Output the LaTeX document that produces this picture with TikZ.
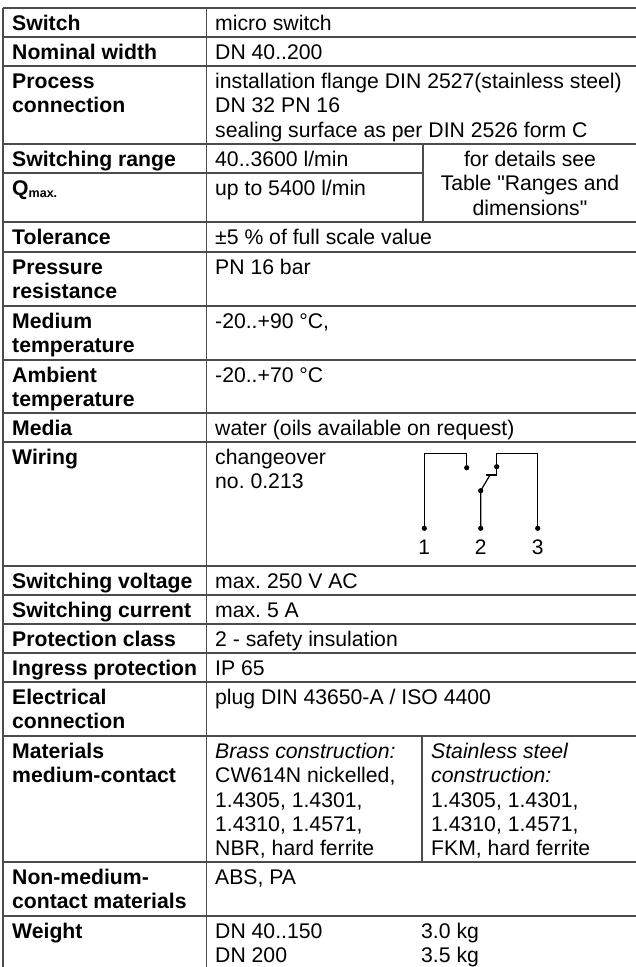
\documentclass[tikz,border=0pt]{standalone}
\usepackage{fontspec}
\setmainfont[Ligatures=TeXOff]{Liberation Sans}
\frenchspacing
\newcommand\cellfont{\fontsize{21.2}{24.4}\selectfont\frenchspacing}
\newcommand\fstrut{\rule{0pt}{17pt}}
\tikzset{
  gridline/.style={draw=black!70, line width=1.15pt},
  lab/.style={anchor=north west, inner sep=0pt, align=left, font=\cellfont\bfseries},
  val/.style={anchor=north west, inner sep=0pt, align=left, font=\cellfont},
  cen/.style={anchor=north, inner sep=0pt, align=center, font=\cellfont},
  wire/.style={line width=1.2pt, draw=black},
  dot/.style={circle, fill=black, inner sep=0pt, minimum size=5.2pt},
  term/.style={font=\fontsize{21}{21}\selectfont, anchor=base, inner sep=0pt}
}
\begin{document}
\begin{tikzpicture}[x=1pt,y=-1pt]
\useasboundingbox (0,0) rectangle (635,967);
\fill[white] (0,0) rectangle (635,967);
% grid
\foreach \yy in {8,37,66,144,222,252,306,360,413,442,566,595,624,653,682,736,862,916}
  \draw[gridline] (3,\yy) -- (640,\yy);
\draw[gridline] (3,173) -- (423,173);
\draw[gridline] (3,8) -- (3,975);
\draw[gridline] (206.5,8) -- (206.5,975);
\draw[gridline] (423,144) -- (423,222);
\draw[gridline] (422,736) -- (422,862);
% labels
\node[lab] (l1) at (12,13) {\fstrut Switch};
\node[lab] (l2) at (12,42) {\fstrut Nominal width};
\node[lab] (l3) at (12,71) {\fstrut Process\\connection};
\node[lab] (l4) at (12,149) {\fstrut Switching range};
\node[lab] (l5) at (12,178) {\fstrut Q\raisebox{-2.5pt}{\fontsize{12.5}{12.5}\selectfont\bfseries max.}};
\node[lab] (l6) at (12,227) {\fstrut Tolerance};
\node[lab] (l7) at (12,257) {\fstrut Pressure\\resistance};
\node[lab] (l8) at (12,311) {\fstrut Medium\\temperature};
\node[lab] (l9) at (12,365) {\fstrut Ambient\\temperature};
\node[lab] (l10) at (12,418) {\fstrut Media};
\node[lab] (l11) at (12,447) {\fstrut Wiring};
\node[lab] (l12) at (12,571) {\fstrut Switching voltage};
\node[lab] (l13) at (12,600) {\fstrut Switching current};
\node[lab] (l14) at (12,629) {\fstrut Protection class};
\node[lab] (l15) at (12,658) {\fstrut Ingress protection};
\node[lab] (l16) at (12,687) {\fstrut Electrical\\connection};
\node[lab] (l17) at (12,741) {\fstrut Materials\\medium-contact};
\node[lab] (l18) at (12,867) {\fstrut Non-medium-\\contact materials};
\node[lab] (l19) at (12,921) {\fstrut Weight};
% values
\node[val] (v1) at (215,13) {\fstrut micro switch};
\node[val] (v2) at (215,42) {\fstrut DN 40..200};
\node[val] (v3) at (215,71) {\fstrut installation flange DIN 2527(stainless steel)\\DN 32 PN 16\\sealing surface as per DIN 2526 form C};
\node[val] (v4) at (215,149) {\fstrut 40..3600 l/min};
\node[val] (v5) at (215,178) {\fstrut up to 5400 l/min};
\node[cen] (v45) at (530,149) {\fstrut for details see\\Table "Ranges and\\dimensions"};
\node[val] (v6) at (215,227) {\fstrut ±5 \% of full scale value};
\node[val] (v7) at (215,257) {\fstrut PN 16 bar};
\node[val] (v8) at (215,311) {\fstrut -20..+90 °C,};
\node[val] (v9) at (215,365) {\fstrut -20..+70 °C};
\node[val] (v10) at (215,418) {\fstrut water (oils available on request)};
\node[val] (v11) at (215,447) {\fstrut changeover\\no. 0.213};
\node[val] (v12) at (215,571) {\fstrut max. 250 V AC};
\node[val] (v13) at (215,600) {\fstrut max. 5 A};
\node[val] (v14) at (215,629) {\fstrut 2 - safety insulation};
\node[val] (v15) at (215,658) {\fstrut IP 65};
\node[val] (v16) at (215,687) {\fstrut plug DIN 43650-A / ISO 4400};
\node[val] (v17a) at (215,741) {\fstrut\textit{Brass construction:}\\CW614N nickelled,\\1.4305, 1.4301,\\1.4310, 1.4571,\\NBR, hard ferrite};
\node[val] (v17b) at (431,741) {\fstrut\textit{Stainless steel}\\\textit{construction:}\\1.4305, 1.4301,\\1.4310, 1.4571,\\FKM, hard ferrite};
\node[val] (v18) at (215,867) {\fstrut ABS, PA};
\node[val] (v19a) at (215,921) {\fstrut DN 40..150\\DN 200};
\node[val] (v19b) at (421,921) {\fstrut 3.0 kg\\3.5 kg};
% wiring diagram
\coordinate (t1top) at (424.3,453.3);
\coordinate (t1r) at (466.7,453.3);
\node[dot] (d1) at (424.3,528.3) {};
\node[dot] (nc) at (466.7,467.7) {};
\draw[wire] (d1.center) -- (t1top) -- (t1r) -- (nc.center);
\coordinate (t3top) at (537.7,453.3);
\coordinate (t3l) at (496.7,453.3);
\coordinate (nob) at (496.7,475);
\coordinate (bar) at (486,475);
\node[dot] (d3) at (537.7,528.3) {};
\node[dot] (no) at (496.7,466.7) {};
\draw[wire] (d3.center) -- (t3top) -- (t3l) -- (nob) -- (bar);
\coordinate (blade) at (490,475);
\node[dot] (com) at (480.7,490.7) {};
\node[dot] (d2) at (480.7,528.3) {};
\draw[wire] (d2.center) -- (com.center) -- (blade);
\node[term] (n1) at (424.3,554) {1};
\node[term] (n2) at (480.7,554) {2};
\node[term] (n3) at (537.7,554) {3};
\end{tikzpicture}
\end{document}
